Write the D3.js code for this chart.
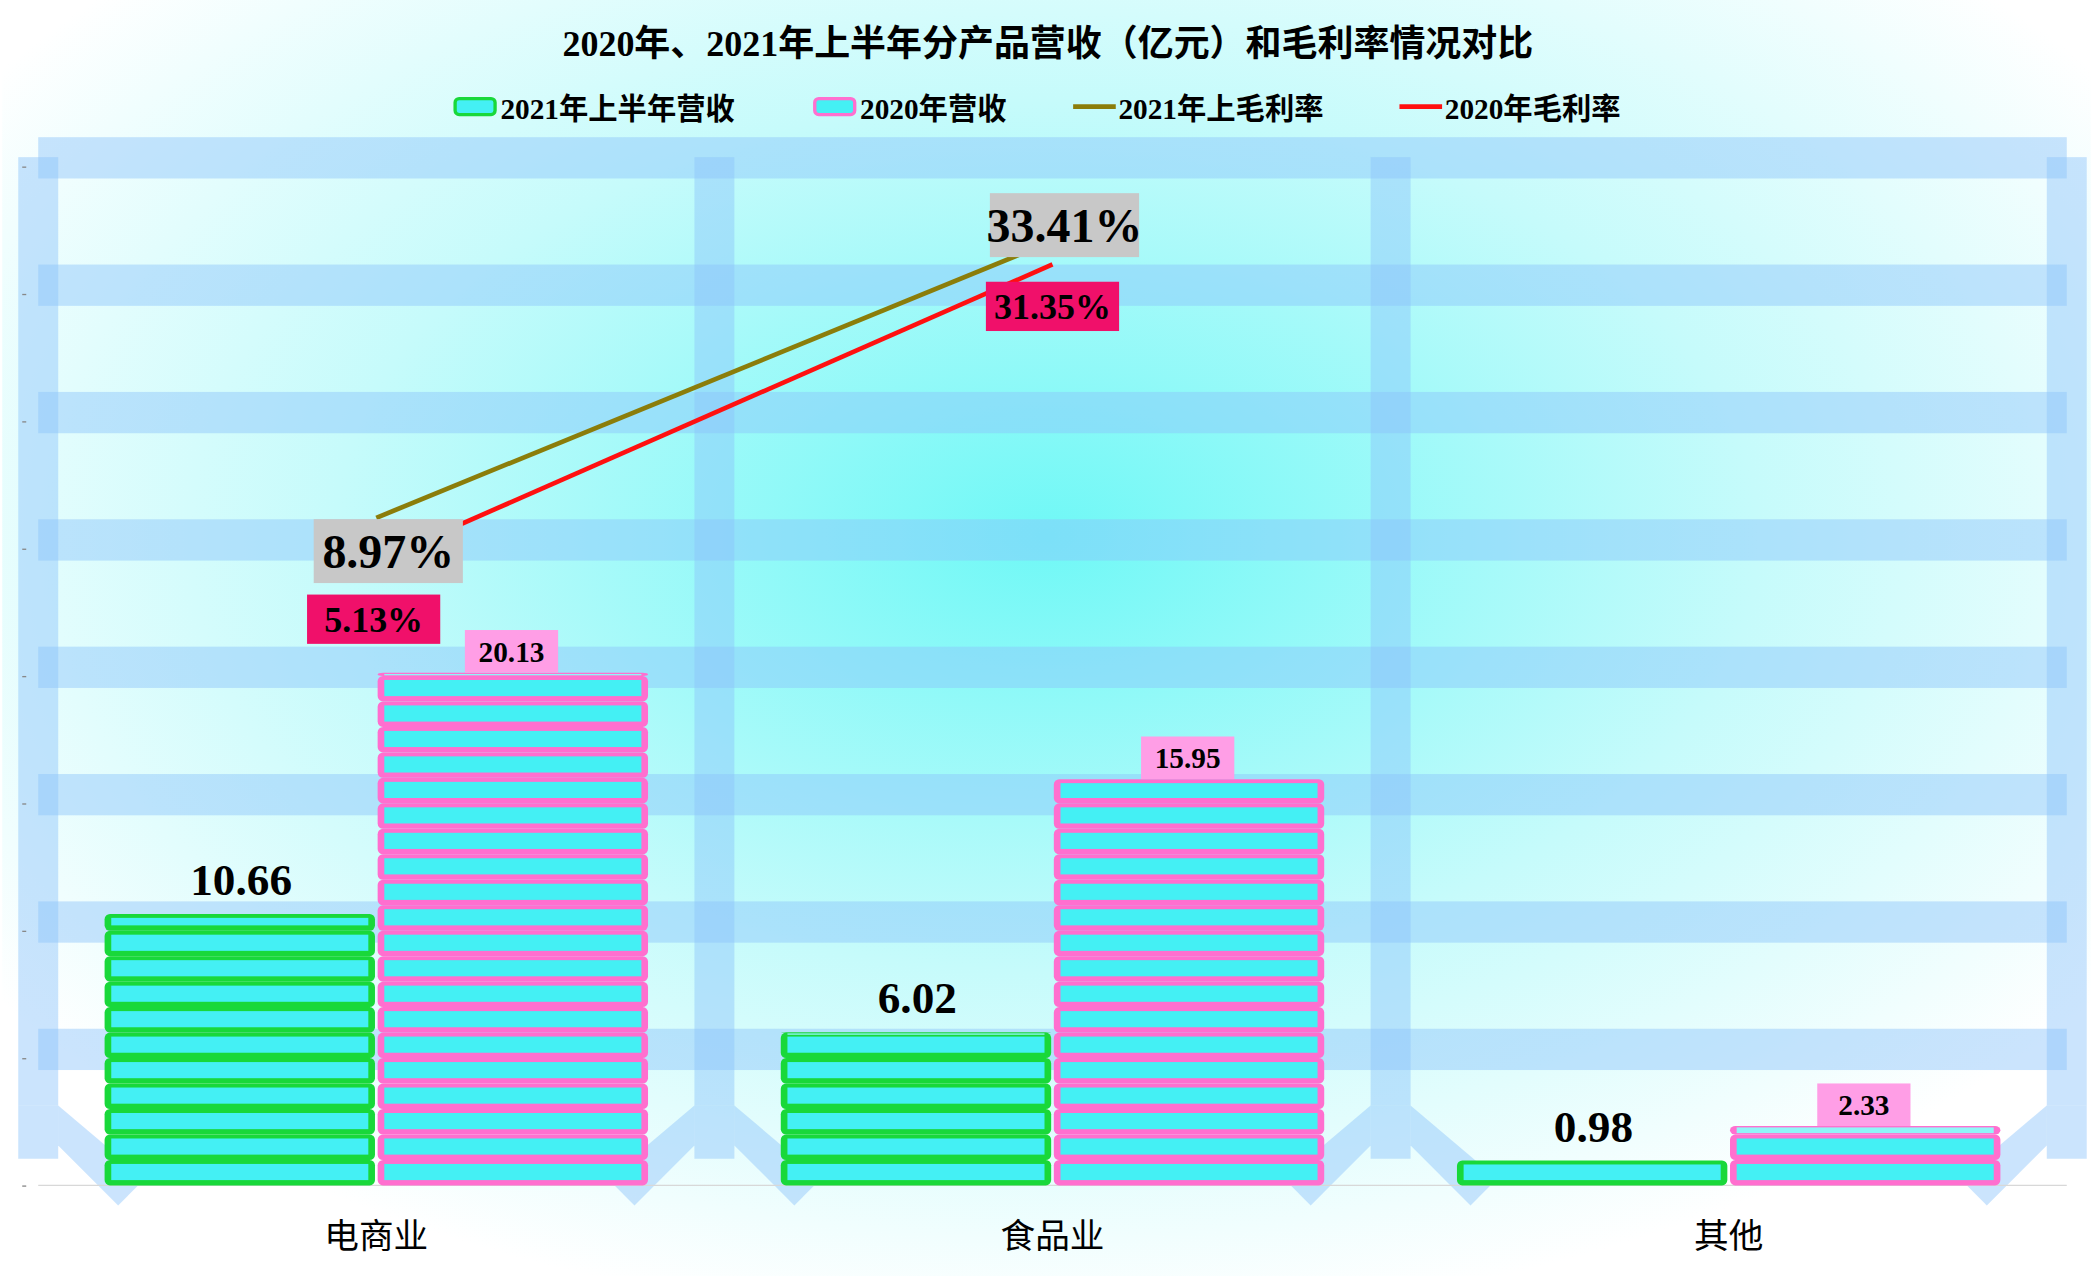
<!DOCTYPE html>
<html><head><meta charset="utf-8">
<script src="https://cdn.jsdelivr.net/npm/d3@7"></script>
<style>body{margin:0;background:#fff}</style>
</head><body>
<div id="chart"></div>
<script>
var categories = ["电商业", "食品业", "其他"];
var rev2021 = [10.66, 6.02, 0.98];
var rev2020 = [20.13, 15.95, 2.33];
var gm2021 = [8.97, 33.41];
var gm2020 = [5.13, 31.35];
var seriesNames = ["2021年上半年营收", "2020年营收", "2021年上毛利率", "2020年毛利率"];

(function () {
var W = 1568, H = 958;
var svg = d3.select("#chart").append("svg")
  .attr("width", 2093).attr("height", 1276)
  .attr("viewBox", "0 0 " + W + " " + H);

var defs = svg.append("defs");
var rg = defs.append("radialGradient").attr("id", "bg")
  .attr("cx", 0.5).attr("cy", 0.42).attr("r", 0.62);
rg.append("stop").attr("offset", "0%").attr("stop-color", "#6ff8f6");
rg.append("stop").attr("offset", "55%").attr("stop-color", "#c6fbfb");
rg.append("stop").attr("offset", "100%").attr("stop-color", "#ffffff");
svg.append("rect").attr("width", W).attr("height", H).attr("fill", "url(#bg)");

var pLeft = 27, pRight = 1550, pTop = 125, base = 890;
var x = d3.scaleBand().domain(categories).range([pLeft, pRight]);
var y = d3.scaleLinear().domain([0, 40]).range([base, pTop]);
var y2 = d3.scaleLinear().domain([-50, 40]).range([base, pTop]);
var bw = 203;

// frame: horizontal translucent bands
var band = "rgba(140,195,250,0.45)";
svg.selectAll(".hb").data(d3.range(5, 45, 5)).enter().append("rect")
  .attr("x", pLeft).attr("width", pRight - pLeft)
  .attr("y", d => y(d) - 22).attr("height", 31).attr("fill", band);
// vertical bands with splayed feet
var xs = [pLeft, x("食品业"), x("其他"), pRight];
xs.forEach(function (xv, i) {
  svg.append("rect").attr("x", xv - 15).attr("y", 118).attr("width", 30)
    .attr("height", 712).attr("fill", band);
  if (i > 0) {
    svg.append("path").attr("d", "M" + (xv - 15) + ",830 L" + (xv - 15) + ",860 L" + (xv - 60) + ",905 L" + (xv - 80) + ",885 Z").attr("fill", band);
  }
  if (i < 3) {
    svg.append("path").attr("d", "M" + (xv + 15) + ",830 L" + (xv + 15) + ",860 L" + (xv + 60) + ",905 L" + (xv + 80) + ",885 Z").attr("fill", band);
  }
  svg.append("path").attr("d", "M" + (xv - 15) + ",830 L" + (xv + 15) + ",830 L" + (xv + 15) + ",870 L" + (xv - 15) + ",870 Z").attr("fill", band);
});
// axis
svg.append("line").attr("x1", pLeft).attr("x2", pRight).attr("y1", base).attr("y2", base)
  .attr("stroke", "#d8d8d8");
svg.append("g").attr("transform", "translate(18,0)")
  .call(d3.axisLeft(y).ticks(9).tickSize(3).tickFormat(""))
  .call(g => g.select(".domain").remove())
  .selectAll("line").attr("stroke", "#888");

// stacked slab bars
function drawSlabs(v, x0, edge) {
  var n = Math.ceil(v);
  for (var i = 0; i < n; i++) {
    var h = Math.min(1, v - i);
    var yb = y(i), yt = y(i + h), hh = yb - yt;
    svg.append("rect").attr("x", x0).attr("y", yt).attr("width", bw).attr("height", hh)
      .attr("rx", 4).attr("fill", edge);
    if (hh > 8) {
      svg.append("rect").attr("x", x0 + 5).attr("y", yt + 3).attr("width", bw - 10)
        .attr("height", hh - 7).attr("fill", "#44f0f4");
    } else {
      svg.append("rect").attr("x", x0 + 5).attr("y", yt + 1).attr("width", bw - 10)
        .attr("height", Math.max(1, hh - 2)).attr("fill", "#8ff6f8");
    }
  }
}
categories.forEach(function (c, i) {
  var cx = x(c) + x.bandwidth() / 2;
  drawSlabs(rev2021[i], cx - bw - 1, "#19d83a");
  drawSlabs(rev2020[i], cx + 1, "#ff6fcf");
  svg.append("text").attr("x", cx - bw / 2).attr("y", y(rev2021[i]) - 14)
    .attr("text-anchor", "middle").attr("font-family", "Liberation Serif")
    .attr("font-weight", "bold").attr("font-size", 34).text(rev2021[i].toFixed(2));
  var lx = cx + bw / 2, ly = y(rev2020[i]) - 17;
  svg.append("rect").attr("x", lx - 35).attr("y", ly - 15).attr("width", 70).attr("height", 32)
    .attr("fill", "#ff9ee6");
  svg.append("text").attr("x", lx).attr("y", ly + 9).attr("text-anchor", "middle")
    .attr("font-family", "Liberation Serif").attr("font-weight", "bold")
    .attr("font-size", 22).text(rev2020[i].toFixed(2));
  svg.append("text").attr("x", cx).attr("y", 937).attr("text-anchor", "middle")
    .attr("font-family", "Noto Sans CJK SC").attr("font-size", 26).text(c);
});

// margin lines
var line = d3.line().x((d, i) => x(categories[i]) + x.bandwidth() / 2).y(d => y2(d));
svg.append("path").attr("d", line(gm2021)).attr("fill", "none").attr("stroke", "#8b7d0a").attr("stroke-width", 3.5);
svg.append("path").attr("d", line(gm2020)).attr("fill", "none").attr("stroke", "#ff1010").attr("stroke-width", 3.5);
gm2021.forEach(function (v, i) {
  var cx = x(categories[i]) + x.bandwidth() / 2 + 5, cy = y2(v) + (i ? -12 : 25);
  svg.append("rect").attr("x", cx - 52).attr("y", cy - 24).attr("width", 112).attr("height", 48)
    .attr("fill", "#c8c8c8");
  svg.append("text").attr("x", cx + 4).attr("y", cy + 13).attr("text-anchor", "middle")
    .attr("font-family", "Liberation Serif").attr("font-weight", "bold")
    .attr("font-size", 36).text(v.toFixed(2) + "%");
});
gm2020.forEach(function (v, i) {
  var cx = x(categories[i]) + x.bandwidth() / 2 - 4 + (i ? 2 : 0), cy = y2(v) + (i ? 31 : 43);
  svg.append("rect").attr("x", cx - 48).attr("y", cy - 18).attr("width", 100).attr("height", 37)
    .attr("fill", "#f0106a");
  svg.append("text").attr("x", cx + 2).attr("y", cy + 10).attr("text-anchor", "middle")
    .attr("font-family", "Liberation Serif").attr("font-weight", "bold")
    .attr("font-size", 27).text(v.toFixed(2) + "%");
});

// title & legend
svg.append("text").attr("x", W / 2 + 1).attr("y", 42).attr("text-anchor", "middle")
  .attr("font-family", "Liberation Serif, Noto Sans CJK SC").attr("font-weight", "bold")
  .attr("font-size", 27).text("2020年、2021年上半年分产品营收（亿元）和毛利率情况对比");
var legX = [340, 610, 804, 1049];
seriesNames.forEach(function (n, i) {
  var g = svg.append("g").attr("transform", "translate(" + legX[i] + ",80)");
  if (i < 2) {
    g.append("rect").attr("x", 0).attr("y", -6).attr("width", 30).attr("height", 12).attr("rx", 3)
      .attr("fill", "#44f0f4").attr("stroke", i ? "#ff6fcf" : "#19d83a").attr("stroke-width", 2.5);
  } else {
    g.append("line").attr("x1", 0).attr("x2", 32).attr("stroke-width", 3.5)
      .attr("stroke", i == 2 ? "#8b7d0a" : "#ff1010");
  }
  g.append("text").attr("x", 34).attr("y", 9).attr("font-family", "Liberation Serif, Noto Sans CJK SC")
    .attr("font-weight", "bold").attr("font-size", 22).text(n);
});
})();
</script>
</body></html>
